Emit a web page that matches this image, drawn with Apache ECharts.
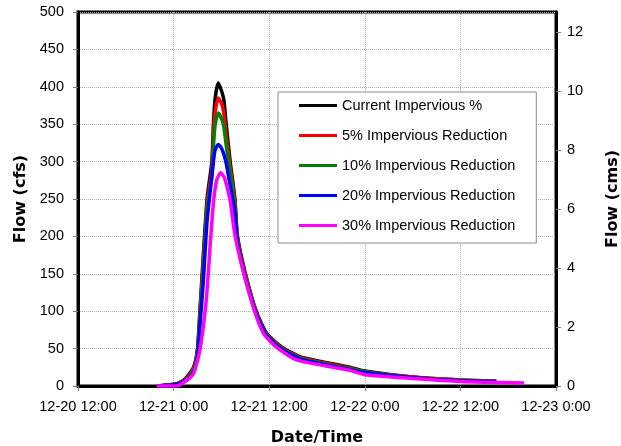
<!DOCTYPE html>
<html>
<head>
<meta charset="utf-8">
<script src="https://cdn.jsdelivr.net/npm/echarts@6/dist/echarts.min.js"></script>
<style>html,body{margin:0;padding:0;background:#fff;}#c{width:621px;height:446px;}</style>
</head>
<body>
<div id="c"></div>
<script>
// Hours counted from 12-20 0:00
var hoursA = [22, 24.4, 25.5, 26.5, 27.0, 27.3, 27.7, 28.2, 28.8, 29.0, 29.2, 29.6, 30.0, 30.3, 30.6, 31.1, 31.7, 32.0, 33.0, 34.4, 35.7, 37.6, 39.9, 45.7, 48, 54, 60, 64.5];
var currentImp = [0, 3, 10, 25, 50, 100, 170, 250, 300, 350, 383, 405, 395, 383, 350, 300, 250, 202, 151, 99, 70, 52, 39, 26, 20, 12, 8, 6.5];
var reduct5   = [0, 3, 9, 23, 47, 95, 160, 242, 290, 335, 365, 385, 378, 365, 335, 292, 245, 199, 149, 98, 69, 51, 38, 25, 19, 12, 8, 6.5];
var reduct10  = [0, 2.5, 8, 21, 44, 90, 152, 235, 280, 320, 348, 365, 358, 347, 322, 285, 240, 196, 147, 97, 68, 50, 37, 24, 19, 11, 7.5, 6];
var reduct20  = [0, 2, 7, 18, 38, 80, 135, 220, 280, 300, 315, 323, 318, 310, 298, 268, 232, 192, 144, 95, 67, 49, 36, 23, 18, 11, 7, 6];
var hoursB = [21.9, 24.4, 25.7, 26.5, 27.3, 28.1, 28.6, 29.0, 29.4, 29.9, 30.4, 30.8, 31.1, 31.7, 32.8, 34.2, 35.3, 36.9, 39.4, 46.1, 48, 54, 60, 68];
var reduct30  = [0, 0, 8, 17, 48, 115, 190, 245, 275, 285, 278, 262, 248, 202, 151, 99, 70, 52, 35, 21, 15, 10, 6, 4];

var seriesNames = ['Current Impervious %', '5% Impervious Reduction', '10% Impervious Reduction', '20% Impervious Reduction', '30% Impervious Reduction'];
var seriesColors = ['#000000', '#ff0000', '#008000', '#0000ff', '#ff00ff'];
var xTickLabels = ['12-20 12:00', '12-21 0:00', '12-21 12:00', '12-22 0:00', '12-22 12:00', '12-23 0:00'];
var leftTicks = [0, 50, 100, 150, 200, 250, 300, 350, 400, 450, 500];
var rightTicks = [0, 2, 4, 6, 8, 10, 12];

function pairs(xs, ys) { return xs.map(function (x, i) { return [x, ys[i]]; }); }
var dataSets = [pairs(hoursA, currentImp), pairs(hoursA, reduct5), pairs(hoursA, reduct10), pairs(hoursA, reduct20), pairs(hoursB, reduct30)];

var FONT = 'Liberation Sans, Arial, sans-serif';
var TITLEFONT = 'DejaVu Sans, Verdana, sans-serif';

var chart = echarts.init(document.getElementById('c'), null, {renderer: 'canvas'});
chart.setOption({
  animation: false,
  backgroundColor: '#ffffff',
  grid: {left: 78, right: 65, top: 12, bottom: 60, show: true, borderColor: '#000', borderWidth: 3, containLabel: false, outerBoundsMode: 'none'},
  legend: {
    orient: 'vertical',
    left: 278, top: 92,
    data: seriesNames,
    icon: 'rect',
    backgroundColor: '#fff',
    borderColor: '#8c8c8c', borderWidth: 1,
    padding: [5, 21, 9, 21],
    itemWidth: 38, itemHeight: 3, itemGap: 13,
    textStyle: {fontFamily: FONT, fontSize: 14.5, color: '#000', lineHeight: 17}
  },
  xAxis: {
    type: 'value', min: 12, max: 72, interval: 12,
    name: 'Date/Time', nameLocation: 'middle', nameGap: 44,
    nameTextStyle: {fontFamily: TITLEFONT, fontWeight: 'bold', fontSize: 16, color: '#000'},
    axisLine: {show: true, lineStyle: {color: '#000', width: 3}},
    axisTick: {show: true, length: 5, lineStyle: {color: '#808080'}},
    axisLabel: {margin: 13, fontFamily: FONT, fontSize: 14.5, color: '#000', formatter: function (v) { return xTickLabels[Math.round((v - 12) / 12)] || ''; }},
    splitLine: {show: true, lineStyle: {color: '#b0b0b0', type: 'dotted', width: 1}}
  },
  yAxis: [{
    type: 'value', min: 0, max: 500, interval: 50, position: 'left',
    name: 'Flow (cfs)', nameLocation: 'middle', nameGap: 47, nameRotate: 90,
    nameTextStyle: {fontFamily: TITLEFONT, fontWeight: 'bold', fontSize: 16, color: '#000'},
    axisLine: {show: true, lineStyle: {color: '#000', width: 3}},
    axisTick: {show: true, length: 5, lineStyle: {color: '#808080'}},
    axisLabel: {margin: 14, fontFamily: FONT, fontSize: 14.5, color: '#000', formatter: function (v) { return leftTicks.indexOf(v) >= 0 ? String(v) : ''; }},
    splitLine: {show: true, lineStyle: {color: '#b0b0b0', type: 'dotted', width: 1}}
  }, {
    type: 'value', min: 0, max: 12.68, interval: 2, position: 'right',
    name: 'Flow (cms)', nameLocation: 'middle', nameGap: 49, nameRotate: 90,
    nameTextStyle: {fontFamily: TITLEFONT, fontWeight: 'bold', fontSize: 16, color: '#000'},
    axisLine: {show: true, lineStyle: {color: '#000', width: 3}},
    axisTick: {show: true, length: 5, lineStyle: {color: '#808080'}},
    axisLabel: {margin: 11, showMaxLabel: false, fontFamily: FONT, fontSize: 14.5, color: '#000', formatter: function (v) { return rightTicks.indexOf(v) >= 0 ? String(v) : ''; }},
    splitLine: {show: false}
  }],
  series: seriesNames.map(function (n, i) {
    return {
      name: n, type: 'line', data: dataSets[i], yAxisIndex: 0,
      symbol: 'none', smooth: 0.2,
      lineStyle: {color: seriesColors[i], width: 3.5},
      itemStyle: {color: seriesColors[i]},
      z: 2 + i
    };
  })
});
</script>
</body>
</html>
